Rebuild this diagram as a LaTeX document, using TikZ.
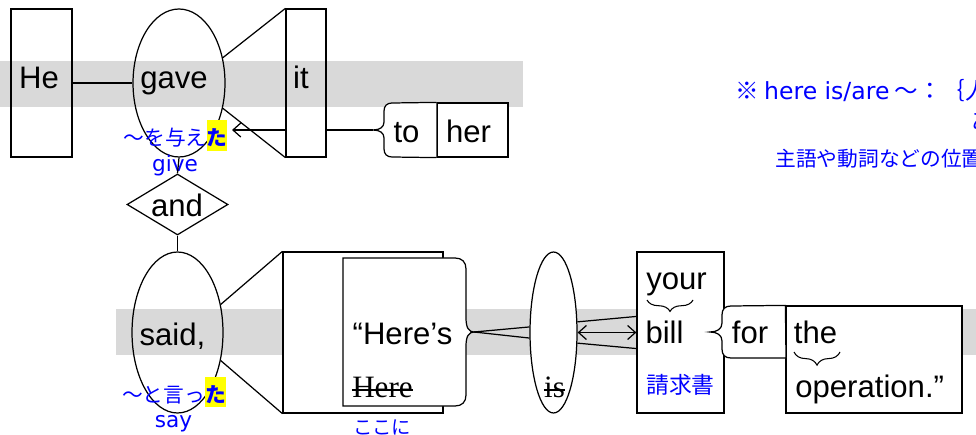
\documentclass[tikz,border=0pt]{standalone}
\usepackage{fontspec}
\usepackage{xcolor}
\usetikzlibrary{shapes.geometric, arrows.meta, positioning, calc, decorations.pathreplacing}
\setmainfont{Liberation Sans}
\newfontfamily\serifword{Liberation Serif}
\newfontfamily\jpfont{Noto Sans CJK JP}
\newfontfamily\glossfont{DejaVu Sans}
\definecolor{bandgray}{HTML}{D9D9D9}
\definecolor{glossblue}{HTML}{0000FF}
\definecolor{markyellow}{HTML}{FFFF00}
\newcommand{\markta}[1]{{\setlength{\fboxsep}{0pt}\colorbox{markyellow}{\rule[-0.22em]{0pt}{1.45em}\bfseries #1}}}

\begin{document}
\begin{tikzpicture}[x=0.02cm, y=-0.02cm,
  word/.style={font=\fontsize{17.7}{20}\selectfont, inner sep=0pt, anchor=base},
  struck/.style={font=\serifword\fontsize{17.7}{20}\selectfont, inner sep=0pt, anchor=base},
  box/.style={rectangle, draw, line width=0.7pt, inner sep=0pt},
  oval/.style={ellipse, draw, line width=0.7pt, inner sep=0pt},
  gloss/.style={font=\jpfont\fontsize{11.8}{14}\selectfont, text=glossblue, inner sep=0pt, anchor=base},
  glossen/.style={font=\glossfont\fontsize{12.3}{14}\selectfont, text=glossblue, inner sep=0pt, anchor=base},
  note/.style={font=\jpfont\fontsize{13.4}{15}\selectfont, text=glossblue, inner sep=0pt, anchor=base west},
  link/.style={line width=0.7pt},
  strike/.style={line width=0.6pt},
  brace/.style={line width=0.6pt, decorate, decoration={brace, mirror, amplitude=#1}},
  arrow/.style={-{Straight Barb[length=4.5pt, width=8pt]}, line width=0.7pt}
]
  \useasboundingbox (0,0) rectangle (976,435);
  \clip (0,0) rectangle (976,435);

  \fill[bandgray] (0,61) rectangle (523,107);
  \fill[bandgray] (116,309) rectangle (976,355);

  \node[box, minimum width=1.22cm, minimum height=2.96cm] (he) at (41.5,83) {};
  \node[oval, minimum width=1.84cm, minimum height=2.96cm] (gave) at (179,83) {};
  \node[box, minimum width=0.8cm, minimum height=2.96cm] (it) at (306,83) {};
  \node[box, fill=white, minimum width=1.42cm, minimum height=1.08cm] (her) at (472.5,130) {};
  \coordinate (totip) at (373,130);
  \coordinate (gavein) at (232,130);
  \draw[link, fill=white] (her.north west) -- (392,103) .. controls (387,103) and (384,106) .. (384,111) -- (384,122)
    .. controls (384,127) and (380,130) .. (totip) .. controls (380,130) and (384,133) .. (384,138) -- (384,149)
    .. controls (384,154) and (387,157) .. (392,157) -- (her.south west);

  \node[word] (hetxt) at (39,89) {He};
  \node[word] (gavetxt) at (174,89) {gave};
  \node[word] (ittxt) at (301,89) {it};
  \node[word] (to) at (406.5,143) {to};
  \node[word] (hertxt) at (468.5,143) {her};

  \draw[link] (he.east) -- (gave.west);
  \draw[link] (gave.30) -- (it.north west);
  \draw[link] (gave.-30) -- (it.south west);
  \draw[arrow] (it.west |- gavein) -- (gavein);
  \draw[link] (it.east |- totip) -- (totip);

  \node[gloss] (gavejp) at (175.5,146) {～を与え\markta{た}};
  \node[glossen] (give) at (175,172) {give};

  \node[diamond, draw, line width=0.7pt, aspect=1.656, minimum width=2.02cm, minimum height=1.22cm, inner sep=0pt] (and) at (177.5,204.5) {};
  \node[word] (andtxt) at (177,217) {and};
  \draw[link] (gave.south) -- (and.north);

  \node[oval, minimum width=1.82cm, minimum height=3.22cm] (said) at (177.5,332.5) {};
  \node[word] (saidtxt) at (172.5,345) {said,};
  \draw[link] (and.south) -- (said.north);

  \node[box, fill=white, minimum width=3.2cm, minimum height=3.22cm] (quote) at (363,332.5) {};
  \coordinate (qtip) at (474,332);
  \draw[link, fill=white] (343,258) -- (455,258) .. controls (462,258) and (466,262) .. (466,269) -- (466,318)
    .. controls (466,328) and (469,332) .. (qtip) .. controls (469,332) and (466,336) .. (466,346) -- (466,395)
    .. controls (466,402) and (462,406) .. (455,406) -- (343,406) -- cycle;
  \node[word] (heres) at (402.5,344) {“Here’s};
  \node[struck] (here) at (382.5,397) {Here};
  \draw[strike] ($(here.base west)+(0,-7)$) -- ($(here.base east)+(0,-7)$);
  \draw[link] (said.33) -- (quote.north west);
  \draw[link] (said.-33) -- (quote.south west);

  \node[oval, fill=white, minimum width=0.94cm, minimum height=3.22cm] (is) at (553.5,332.5) {};
  \node[struck] (istxt) at (554.5,397) {is};
  \draw[strike] ($(istxt.base west)+(0,-7)$) -- ($(istxt.base east)+(0,-7)$);
  \draw[link] (qtip) -- (is.167);
  \draw[link] (qtip) -- (is.193);

  \node[box, fill=white, minimum width=1.74cm, minimum height=3.22cm] (bill) at (680.5,332.5) {};
  \draw[link] (is.24) -- (bill.160);
  \draw[link] (is.-24) -- (bill.200);
  \draw[{Straight Barb[length=4.5pt, width=8pt]}-{Straight Barb[length=4.5pt, width=8pt]}, line width=0.7pt] (is.east) -- (bill.west);

  \node[box, fill=white, minimum width=3.52cm, minimum height=2.14cm] (theop) at (874,359.5) {};
  \coordinate (fortip) at (710,332);
  \draw[link, fill=white] (theop.north west) -- (731,306) .. controls (725,306) and (722,309) .. (722,315) -- (722,323)
    .. controls (722,329) and (717,332) .. (fortip) .. controls (717,332) and (722,335) .. (722,341) -- (722,349)
    .. controls (722,355) and (725,358) .. (731,358) -- (786,358) -- cycle;

  \node[word] (your) at (676.5,290) {your};
  \draw[brace=6.5pt] (647,300) -- (693,300);
  \node[word] (billtxt) at (664.5,343) {bill};
  \node[gloss, font=\jpfont\fontsize{13}{15}\selectfont] (billjp) at (680.5,393) {請求書};
  \node[word] (for) at (750,343) {for};
  \node[word] (the) at (815.5,343) {the};
  \draw[brace=7.5pt] (794,352) -- (840,352);
  \node[word, anchor=base west] (operation) at (795,397) {operation.”};

  \node[gloss] (saidjp) at (174,402) {～と言っ\markta{た}};
  \node[glossen] (say) at (173.5,427) {say};
  \node[gloss, font=\jpfont\fontsize{11}{13}\selectfont] (koko) at (382,434) {ここに};

  \node[note] (note1) at (735,100) {※ {\glossfont here is/are} ～：｛人・物｝};
  \node[note] (note2) at (971,130) {ある};
  \node[note, font=\jpfont\fontsize{11.8}{14}\selectfont] (note3) at (775,167) {主語や動詞などの位置が逆になる};
\end{tikzpicture}
\end{document}
